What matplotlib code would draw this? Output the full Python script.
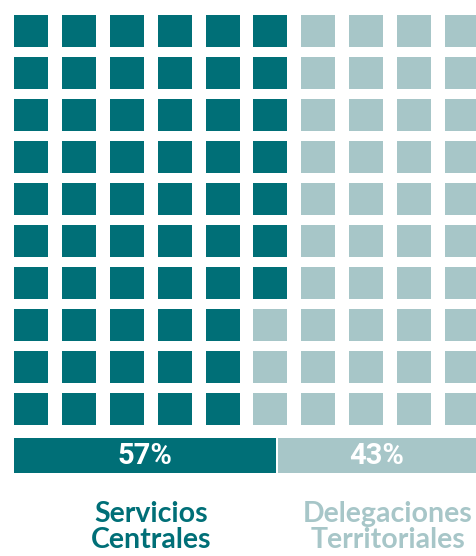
import matplotlib
matplotlib.use('Agg')
import matplotlib.pyplot as plt
from matplotlib.patches import Rectangle

# data
categories = ['Servicios\nCentrales', 'Delegaciones\nTerritoriales']
values = [57, 43]
labels = ['57%', '43%']
colors = ['#006F77', '#A7C6C8']

n_rows, n_cols = 10, 10

fig = plt.figure(figsize=(4.77, 5.56), dpi=100)
ax = fig.add_axes([0, 0, 1, 1])
ax.set_xlim(0, 477)
ax.set_ylim(556, 0)
ax.axis('off')

# waffle grid, filled column by column from the top left
x0, y0 = 14, 15
dx, dy = 47.9, 42
w, h = 34, 32
for col in range(n_cols):
    for row in range(n_rows):
        i = col * n_rows + row
        c = colors[0] if i < values[0] else colors[1]
        ax.add_patch(Rectangle((x0 + col * dx, y0 + row * dy), w, h, color=c, lw=0))

# stacked bar below
total_w = 460
gap = 2
bar_y, bar_h = 455.5, 35
left = x0
for v, lab, c in zip(values, labels, colors):
    bw = total_w * v / sum(values)
    ax.barh(bar_y, bw, left=left, height=bar_h, color=c, lw=0)
    ax.text(left + bw / 2, bar_y + 1, lab, color='white', fontsize=21,
            fontweight='bold', family='Roboto', ha='center', va='center')
    left += bw + gap

# category labels
label_x = [151, 388]
for x, cat, c in zip(label_x, categories, colors):
    ax.text(x, 527, cat, color=c, fontsize=20.5, fontweight='bold', family='Lato',
            ha='center', va='center', linespacing=0.98)

fig.savefig('out.png', dpi=100)
